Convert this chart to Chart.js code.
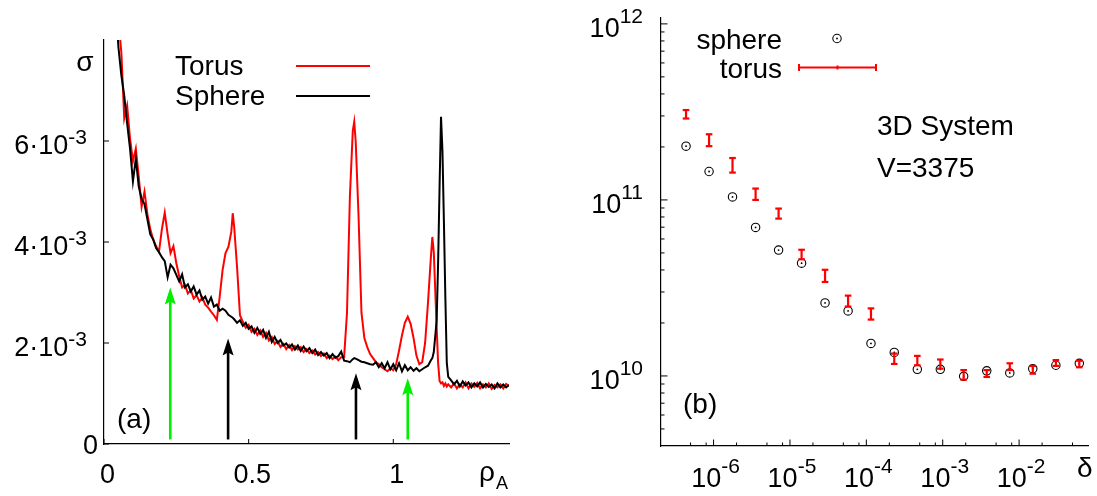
<!DOCTYPE html>
<html>
<head>
<meta charset="utf-8">
<script src="https://cdn.jsdelivr.net/npm/chart.js@4.4.1/dist/chart.umd.min.js"></script>
<style>
  html, body { margin: 0; padding: 0; background: #fff; }
  #wrap { position: relative; width: 1097px; height: 496px; }
  #leftChart { position: absolute; left: 0; top: 0; }
  #rightChart { position: absolute; left: 548px; top: 0; }
</style>
</head>
<body>
<div id="wrap">
  <canvas id="leftChart" width="548" height="496"></canvas>
  <canvas id="rightChart" width="549" height="496"></canvas>
</div>
<script>
// ---------- panel (a): sigma vs rho_A, sigma in units of 10^-3 ----------
const rhoA = [
  0.04, 0.05, 0.06, 0.07, 0.08, 0.09, 0.10, 0.11, 0.12, 0.13,
  0.14, 0.15, 0.16, 0.17, 0.18, 0.19, 0.20, 0.21, 0.22, 0.23,
  0.24, 0.25, 0.26, 0.27, 0.28, 0.29, 0.30, 0.31, 0.32, 0.33,
  0.34, 0.35, 0.36, 0.37, 0.38, 0.39, 0.40, 0.41, 0.42, 0.43,
  0.44, 0.445, 0.45, 0.46, 0.47, 0.48, 0.49, 0.50, 0.51, 0.52,
  0.53, 0.54, 0.55, 0.56, 0.57, 0.58, 0.59, 0.60, 0.61, 0.62,
  0.63, 0.64, 0.65, 0.66, 0.67, 0.68, 0.69, 0.70, 0.71, 0.72,
  0.73, 0.74, 0.75, 0.76, 0.77, 0.78, 0.79, 0.80, 0.81, 0.82,
  0.83, 0.84, 0.85, 0.86, 0.865, 0.87, 0.88, 0.89, 0.90, 0.91,
  0.92, 0.93, 0.94, 0.95, 0.96, 0.97, 0.98, 0.99, 1.00, 1.01,
  1.02, 1.03, 1.04, 1.05, 1.06, 1.07, 1.08, 1.09, 1.10, 1.11,
  1.12, 1.13, 1.135, 1.14, 1.15, 1.155, 1.16, 1.165, 1.17, 1.175,
  1.18, 1.185, 1.19, 1.20, 1.21, 1.22, 1.23, 1.24, 1.25, 1.26,
  1.27, 1.28, 1.29, 1.30, 1.31, 1.32, 1.33, 1.34, 1.35, 1.36,
  1.37, 1.38, 1.39, 1.40
];

const sigmaSphere = [
  8.70, 7.85, 7.30, 6.90, 6.35, 5.85, 5.20, 5.65, 5.10, 4.85,
  4.75, 4.45, 4.15, 4.05, 3.88, 3.80, 3.70, 3.62, 3.30, 3.55,
  3.48, 3.35, 3.22, 3.36, 3.10, 3.16, 3.02, 3.12, 2.96, 3.04,
  2.86, 2.92, 2.78, 2.90, 2.72, 2.76, 2.64, 2.68, 2.64, 2.56,
  2.52, 2.50, 2.47, 2.40, 2.45, 2.34, 2.40, 2.28, 2.33, 2.20,
  2.30, 2.18, 2.26, 2.10, 2.22, 2.02, 2.12, 2.00, 2.06, 1.95,
  1.99, 1.91, 1.97, 1.87, 1.95, 1.84, 1.93, 1.84, 1.90, 1.80,
  1.87, 1.76, 1.82, 1.75, 1.80, 1.70, 1.78, 1.71, 1.74, 1.83,
  1.65, 1.64, 1.62, 1.68, 1.70, 1.69, 1.66, 1.63, 1.62, 1.60,
  1.58, 1.57, 1.62, 1.52, 1.60, 1.50, 1.62, 1.48, 1.58, 1.46,
  1.60, 1.44, 1.56, 1.46, 1.52, 1.45, 1.50, 1.44, 1.48, 1.52,
  1.55, 1.66, 1.70, 1.82, 2.45, 3.60, 5.10, 6.48, 5.80, 4.40,
  2.90, 1.60, 1.33, 1.26, 1.18, 1.25, 1.14, 1.24, 1.16, 1.22,
  1.12, 1.20, 1.14, 1.22, 1.12, 1.19, 1.13, 1.18, 1.10, 1.20,
  1.12, 1.18, 1.12, 1.17
];

const sigmaTorus = [
  9.30, 8.40, 7.75, 6.45, 6.70, 6.05, 5.60, 5.85, 5.30, 4.70,
  5.00, 4.55, 4.25, 4.05, 3.92, 3.80, 4.25, 4.58, 4.15, 3.78,
  3.92, 3.58, 3.32, 3.10, 3.15, 2.98, 3.05, 2.88, 2.95, 2.82,
  2.90, 2.76, 2.70, 2.62, 2.55, 2.46, 2.92, 3.45, 3.78, 3.90,
  4.20, 4.57, 4.30, 3.50, 2.55, 2.42, 2.30, 2.36, 2.22, 2.28,
  2.16, 2.25, 2.12, 2.20, 2.05, 2.12, 1.98, 2.04, 1.92, 1.98,
  1.88, 1.96, 1.86, 1.94, 1.87, 1.92, 1.82, 1.88, 1.80, 1.85,
  1.77, 1.82, 1.74, 1.79, 1.70, 1.75, 1.68, 1.73, 1.66, 1.72,
  1.72, 2.60, 4.90, 6.20, 6.38, 6.00, 4.50, 2.60, 2.10, 1.92,
  1.78, 1.70, 1.62, 1.58, 1.52, 1.48, 1.44, 1.50, 1.46, 1.58,
  1.85, 2.15, 2.40, 2.52, 2.38, 2.10, 1.75, 1.58, 1.62, 2.00,
  2.80, 3.70, 4.10, 3.80, 2.30, 1.60, 1.25, 1.20, 1.22, 1.15,
  1.20, 1.14, 1.18, 1.12, 1.20, 1.10, 1.18, 1.12, 1.22, 1.10,
  1.20, 1.13, 1.21, 1.10, 1.18, 1.12, 1.20, 1.09, 1.17, 1.12,
  1.18, 1.10, 1.19, 1.15
];

const rhoTicks = [0, 0.5, 1];
const rhoTickLabels = ['0', '0.5', '1'];
const sigmaTicks = [0, 2, 4, 6];
const sigmaTickLabels = [['0', ''], ['2\u00B710', '-3'], ['4\u00B710', '-3'], ['6\u00B710', '-3']];

// arrows: position, tip height, colour
const arrowRho = [0.229, 0.429, 0.871, 1.050];
const arrowTip = [3.10, 2.09, 1.40, 1.30];
const arrowColor = ['#00ee00', '#000000', '#000000', '#00ee00'];

// ---------- panel (b): log-log ----------
const delta = [
  4.36e-7, 8.73e-7, 1.77e-6, 3.55e-6, 7.10e-6, 1.42e-5, 2.88e-5, 5.77e-5, 1.15e-4,
  2.32e-4, 4.65e-4, 9.30e-4, 1.88e-3, 3.77e-3, 7.55e-3, 1.51e-2, 3.03e-2, 6.14e-2
];
const sphereVal = [
  2.02e11, 1.45e11, 1.04e11, 6.98e10, 5.19e10, 4.37e10, 2.60e10, 2.34e10, 1.53e10,
  1.36e10, 1.09e10, 1.09e10, 0.995e10, 1.07e10, 1.04e10, 1.10e10, 1.15e10, 1.18e10
];
const torusLow = [
  2.90e11, 2.02e11, 1.43e11, 1.00e11, 7.83e10, 4.60e10, 3.42e10, 2.48e10, 2.09e10,
  1.17e10, 1.15e10, 1.10e10, 0.953e10, 0.987e10, 1.08e10, 1.03e10, 1.14e10, 1.12e10
];
const torusHigh = [
  3.24e11, 2.36e11, 1.73e11, 1.16e11, 8.93e10, 5.21e10, 4.01e10, 2.86e10, 2.42e10,
  1.34e10, 1.30e10, 1.24e10, 1.08e10, 1.08e10, 1.18e10, 1.14e10, 1.23e10, 1.22e10
];

const deltaMajor = [1e-6, 1e-5, 1e-4, 1e-3, 1e-2];
const deltaMajorExp = ['-6', '-5', '-4', '-3', '-2'];
const deltaMinor = [5e-7, 8e-7, 2e-6, 5e-6, 8e-6, 2e-5, 5e-5, 8e-5, 2e-4, 5e-4, 8e-4,
                    2e-3, 5e-3, 8e-3, 2e-2, 5e-2];
const valMajor = [1e10, 1e11, 1e12];
const valMajorExp = ['10', '11', '12'];
const valMinor = [5e9, 6e9, 7e9, 8e9, 9e9,
                  2e10, 3e10, 4e10, 5e10, 6e10, 7e10, 8e10, 9e10,
                  2e11, 3e11, 4e11, 5e11, 6e11, 7e11, 8e11, 9e11];

const FONT = '"Liberation Sans", Arial, Helvetica, sans-serif';

// draw base with a raised exponent
function powText(ctx, base, exp, x, y, align, size, supSize, rise) {
  ctx.font = size + 'px ' + FONT;
  const wb = ctx.measureText(base).width;
  ctx.font = supSize + 'px ' + FONT;
  const we = exp ? ctx.measureText(exp).width : 0;
  let left = x;
  if (align === 'right') left = x - wb - we;
  if (align === 'center') left = x - (wb + we) / 2;
  ctx.textAlign = 'left';
  ctx.textBaseline = 'alphabetic';
  ctx.font = size + 'px ' + FONT;
  ctx.fillText(base, left, y);
  if (exp) {
    ctx.font = supSize + 'px ' + FONT;
    ctx.fillText(exp, left + wb, y - rise);
  }
}

function seg(ctx, x1, y1, x2, y2) {
  ctx.beginPath();
  ctx.moveTo(x1, y1);
  ctx.lineTo(x2, y2);
  ctx.stroke();
}

// ticks, labels, legend and arrows of panel (a)
const leftDecor = {
  id: 'leftDecor',
  afterDraw(chart) {
    const ctx = chart.ctx;
    const xs = chart.scales.x, ys = chart.scales.y;
    const area = chart.chartArea;
    ctx.save();
    ctx.strokeStyle = '#000';
    ctx.fillStyle = '#000';
    ctx.lineWidth = 1;

    // inward ticks + labels
    rhoTicks.forEach((v, i) => {
      const px = xs.getPixelForValue(v);
      seg(ctx, px, area.bottom, px, area.bottom - 5);
      ctx.font = '27px ' + FONT;
      ctx.textAlign = 'center';
      ctx.fillText(rhoTickLabels[i], px + 3.5, 483);
    });
    sigmaTicks.forEach((v, i) => {
      const py = ys.getPixelForValue(v);
      seg(ctx, area.left, py, area.left + 5, py);
      const lab = sigmaTickLabels[i];
      if (lab[1]) powText(ctx, lab[0], lab[1], 87, py + 12.5, 'right', 27, 21, 10);
      else powText(ctx, lab[0], '', 98, py + 10, 'right', 27, 21, 10);
    });

    // axis names
    ctx.font = '28px ' + FONT;
    ctx.textAlign = 'center';
    ctx.fillText('\u03C3', 85, 71);
    ctx.textAlign = 'left';
    ctx.fillText('\u03C1', 479, 481);
    ctx.font = '18px ' + FONT;
    ctx.fillText('A', 496, 489);

    // panel tag
    ctx.font = '28px ' + FONT;
    ctx.fillText('(a)', 117, 428);

    // legend
    ctx.fillText('Torus', 175, 75);
    ctx.fillText('Sphere', 175, 105);
    ctx.lineWidth = 2;
    ctx.strokeStyle = '#ff0000';
    seg(ctx, 296, 66, 370, 66);
    ctx.strokeStyle = '#000';
    seg(ctx, 296, 96, 370, 96);

    // arrows
    const base = ys.getPixelForValue(0.09);
    arrowRho.forEach((r, i) => {
      const px = xs.getPixelForValue(r);
      const tip = ys.getPixelForValue(arrowTip[i]);
      ctx.strokeStyle = arrowColor[i];
      ctx.fillStyle = arrowColor[i];
      ctx.lineWidth = 2.6;
      seg(ctx, px, base, px, tip + 12);
      ctx.beginPath();
      ctx.moveTo(px, tip);
      ctx.lineTo(px - 5.5, tip + 17);
      ctx.lineTo(px, tip + 14);
      ctx.lineTo(px + 5.5, tip + 17);
      ctx.closePath();
      ctx.fill();
    });
    ctx.restore();
  }
};

// ticks, labels and legend of panel (b)
const rightDecor = {
  id: 'rightDecor',
  afterDraw(chart) {
    const ctx = chart.ctx;
    const xs = chart.scales.x, ys = chart.scales.y;
    const area = chart.chartArea;
    ctx.save();
    ctx.strokeStyle = '#000';
    ctx.fillStyle = '#000';
    ctx.lineWidth = 1;

    deltaMinor.forEach(v => {
      const px = xs.getPixelForValue(v);
      seg(ctx, px, area.bottom, px, area.bottom - 3.5);
    });
    deltaMajor.forEach((v, i) => {
      const px = xs.getPixelForValue(v);
      seg(ctx, px, area.bottom, px, area.bottom - 6.5);
      powText(ctx, '10', deltaMajorExp[i], px + 2, 487, 'center', 27, 21, 14);
    });
    valMinor.forEach(v => {
      const py = ys.getPixelForValue(v);
      seg(ctx, area.left, py, area.left + 3.5, py);
    });
    valMajor.forEach((v, i) => {
      const py = ys.getPixelForValue(v);
      seg(ctx, area.left, py, area.left + 6.5, py);
      powText(ctx, '10', valMajorExp[i], 95, py + 13.5, 'right', 27, 21, 14);
    });

    ctx.font = '28px ' + FONT;
    ctx.textAlign = 'left';
    ctx.fillText('\u03B4', 529, 477);
    ctx.fillText('(b)', 135, 413);
    ctx.fillText('3D System', 329, 135);
    ctx.fillText('V=3375', 329, 177);

    // legend
    ctx.textAlign = 'right';
    ctx.fillText('sphere', 234, 49);
    ctx.fillText('torus', 234, 78);
    ctx.lineWidth = 1.1;
    ctx.beginPath();
    ctx.arc(289, 38.5, 4.2, 0, Math.PI * 2);
    ctx.stroke();
    ctx.beginPath();
    ctx.arc(289, 38.5, 0.9, 0, Math.PI * 2);
    ctx.fill();
    ctx.strokeStyle = '#ff0000';
    ctx.lineWidth = 2;
    seg(ctx, 251, 67.5, 328, 67.5);
    seg(ctx, 251, 64, 251, 71);
    seg(ctx, 328, 64, 328, 71);
    seg(ctx, 289.5, 65.5, 289.5, 69.5);
    ctx.restore();
  }
};

const noAxisText = {
  grid: { display: false, drawTicks: false },
  ticks: { display: false },
  border: { display: true, color: '#000', width: 1.2 }
};

new Chart(document.getElementById('leftChart'), {
  type: 'line',
  data: {
    datasets: [
      {
        label: 'Sphere',
        data: rhoA.map((r, i) => ({ x: r, y: sigmaSphere[i] })),
        borderColor: '#000000',
        borderWidth: 2,
        pointRadius: 0,
        tension: 0
      },
      {
        label: 'Torus',
        data: rhoA.map((r, i) => ({ x: r, y: sigmaTorus[i] })),
        borderColor: '#ff0000',
        borderWidth: 2,
        pointRadius: 0,
        tension: 0
      }
    ]
  },
  options: {
    responsive: false,
    animation: false,
    devicePixelRatio: 1,
    layout: { padding: { left: 104, right: 39, top: 40, bottom: 52 } },
    plugins: { legend: { display: false }, tooltip: { enabled: false } },
    scales: {
      x: { type: 'linear', min: 0, max: 1.4, ...noAxisText },
      y: { type: 'linear', min: 0, max: 8, ...noAxisText }
    }
  },
  plugins: [leftDecor]
});

// error bars as broken line segments with flat caps
const torusBars = [];
delta.forEach((d, i) => {
  torusBars.push({ x: d, y: torusLow[i] }, { x: d, y: torusHigh[i] }, { x: d, y: null });
});

new Chart(document.getElementById('rightChart'), {
  type: 'line',
  data: {
    datasets: [
      {
        label: 'torus',
        data: torusBars,
        borderColor: '#ff0000',
        borderWidth: 2.2,
        pointStyle: 'line',
        pointRadius: 3.3,
        pointBorderColor: '#ff0000',
        pointBorderWidth: 2.2,
        spanGaps: false,
        tension: 0
      },
      {
        label: 'sphere',
        data: delta.map((d, i) => ({ x: d, y: sphereVal[i] })),
        showLine: false,
        pointStyle: 'circle',
        pointRadius: 4.2,
        pointBorderWidth: 1.1,
        pointBorderColor: '#000',
        pointBackgroundColor: 'rgba(0,0,0,0)'
      },
      {
        label: 'sphere centre',
        data: delta.map((d, i) => ({ x: d, y: sphereVal[i] })),
        showLine: false,
        pointRadius: 0.9,
        pointBorderWidth: 0,
        pointBackgroundColor: '#000'
      }
    ]
  },
  options: {
    responsive: false,
    animation: false,
    devicePixelRatio: 1,
    layout: { padding: { left: 113, right: 9, top: 18, bottom: 50 } },
    plugins: { legend: { display: false }, tooltip: { enabled: false } },
    scales: {
      x: { type: 'logarithmic', min: 2.05e-7, max: 0.0798, ...noAxisText },
      y: { type: 'logarithmic', min: 4.0e9, max: 1.08e12, ...noAxisText }
    }
  },
  plugins: [rightDecor]
});
</script>
</body>
</html>
